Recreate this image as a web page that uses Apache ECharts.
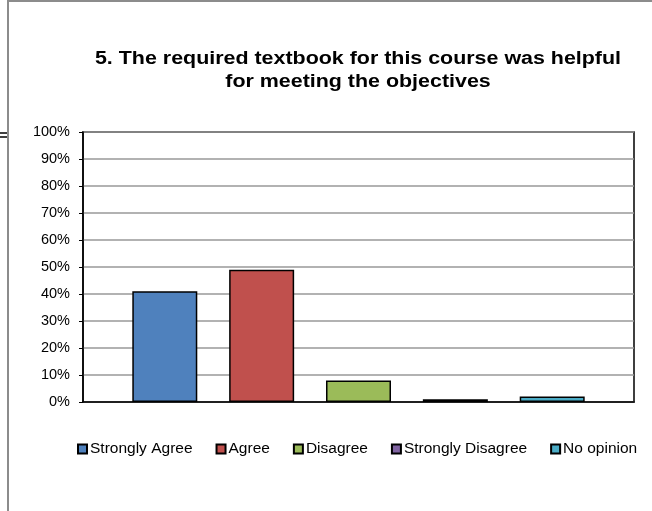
<!DOCTYPE html>
<html>
<head>
<meta charset="utf-8">
<script src="https://cdn.jsdelivr.net/npm/echarts@6/dist/echarts.min.js"></script>
<style>
  html, body { margin: 0; padding: 0; background: #fff; }
  #chart { width: 652px; height: 511px; }
</style>
</head>
<body>
<div id="chart"></div>
<script>
// survey answers, percent of respondents
const answers = ['Strongly Agree', 'Agree', 'Disagree', 'Strongly Disagree', 'No opinion']
const percents = [41, 49, 8, 1, 2]
const colors = ['#4F81BD', '#C0504D', '#9BBB59', '#8064A2', '#4BACC6']
const titleText = '5. The required textbook for this course was helpful\nfor meeting the objectives'

const font = 'Liberation Sans, Arial, sans-serif'
const chart = echarts.init(document.getElementById('chart'))

const series = answers.map((name, i) => ({
  name: name,
  type: 'bar',
  data: [percents[i]],
  barWidth: 65,
  barGap: '49%',
  itemStyle: {
    color: colors[i],
    borderColor: '#000',
    borderWidth: 1.5
  }
}))

chart.setOption({
  animation: false,
  legend: {
    left: 72,
    top: 436,
    icon: 'rect',
    itemWidth: 9,
    itemHeight: 9,
    itemGap: 23,
    textStyle: { fontFamily: font, fontSize: 15.5, color: '#000', padding: [0, 0, 0, -2] },
    data: answers
  },
  graphic: [
    { type: 'rect', shape: { x: 8, y: 1, width: 700, height: 600 }, style: { fill: 'none', stroke: '#8c8c8c', lineWidth: 2 }, silent: true },
    { type: 'line', shape: { x1: 0, y1: 133, x2: 7, y2: 133 }, style: { stroke: '#000', lineWidth: 1.5 } },
    { type: 'line', shape: { x1: 0, y1: 137, x2: 7, y2: 137 }, style: { stroke: '#000', lineWidth: 1.5 } },
    {
      // title, slightly widened like the original picture
      type: 'text',
      x: 358,
      y: 48,
      scaleX: 1.19,
      style: {
        text: titleText,
        align: 'center',
        verticalAlign: 'top',
        font: 'bold 18px ' + font,
        lineHeight: 23,
        fill: '#000'
      }
    }
  ],
  grid: {
    left: 83,
    right: 18,
    top: 132,
    bottom: 109,
    show: true,
    borderColor: '#000',
    borderWidth: 1.5
  },
  xAxis: {
    type: 'category',
    data: [''],
    axisLine: { lineStyle: { color: '#000', width: 1.5 } },
    axisTick: { show: false },
    axisLabel: { show: false }
  },
  yAxis: {
    type: 'value',
    min: 0,
    max: 100,
    interval: 10,
    axisLine: { show: true, lineStyle: { color: '#000', width: 1.5 } },
    axisTick: { show: true, length: 4, lineStyle: { color: '#000' } },
    axisLabel: {
      formatter: '{value}%',
      margin: 13,
      fontFamily: font,
      fontSize: 14.5,
      color: '#000'
    },
    splitLine: { lineStyle: { color: '#999', width: 1.5 } }
  },
  series: series
})
</script>
</body>
</html>
